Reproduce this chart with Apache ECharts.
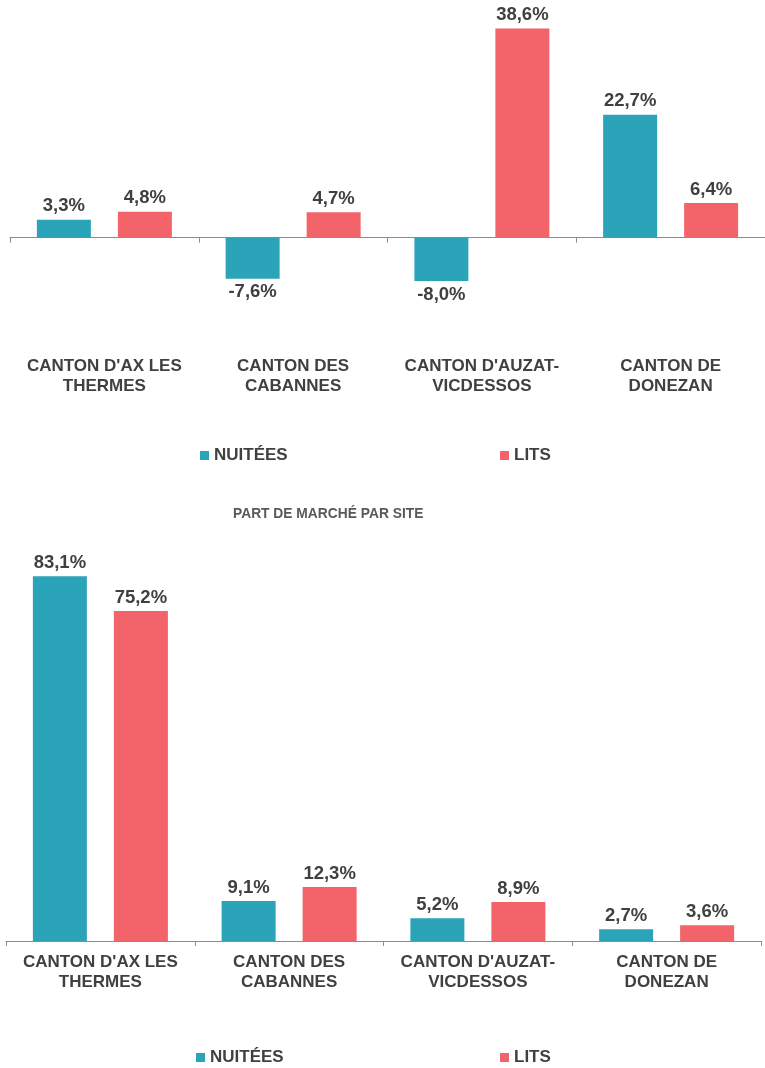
<!DOCTYPE html>
<html>
<head>
<meta charset="utf-8">
<script src="https://cdn.jsdelivr.net/npm/echarts@6/dist/echarts.min.js"></script>
<style>
  html, body { margin: 0; padding: 0; background: #ffffff; }
  #chart { width: 765px; height: 1068px; }
</style>
</head>
<body>
<div id="chart"></div>
<script>
// categories (shared by both charts)
const cantons = ["CANTON D'AX LES\nTHERMES", 'CANTON DES\nCABANNES', "CANTON D'AUZAT-\nVICDESSOS", 'CANTON DE\nDONEZAN'];

// evolution (top chart)
const evolNuitees = [3.3, -7.6, -8.0, 22.7];
const evolLits = [4.8, 4.7, 38.6, 6.4];

// part de marché par site (bottom chart)
const partNuitees = [83.1, 9.1, 5.2, 2.7];
const partLits = [75.2, 12.3, 8.9, 3.6];

const TEAL = '#2ba3b8';
const RED = '#f2636a';
const TXT = '#404040';
const FONT = '"Liberation Sans", Arial, sans-serif';

var dom = document.getElementById('chart');
var myChart = echarts.init(dom, null, { renderer: 'canvas' });

function fmt(v) {
    return v.toFixed(1).replace('.', ',') + '%';
}

// negative bars get their label underneath
function withLabels(values) {
    return values.map(function (v) {
        return { value: v, label: { position: v < 0 ? 'bottom' : 'top' } };
    });
}

const valueLabel = {
    show: true,
    distance: 4,
    color: TXT,
    fontFamily: FONT,
    fontWeight: 'bold',
    fontSize: 18.5,
    formatter: function (p) { return fmt(p.value); }
};

const catLabel = {
    color: TXT,
    fontFamily: FONT,
    fontWeight: 'bold',
    fontSize: 17,
    lineHeight: 20,
    interval: 0
};

const axisLineStyle = { color: '#8c8c8c', width: 1 };

function barSeries(name, color, xi, yi, values) {
    return {
        name: name,
        type: 'bar',
        xAxisIndex: xi,
        yAxisIndex: yi,
        barWidth: 54,
        barGap: '50%',
        itemStyle: { color: color },
        label: valueLabel,
        data: withLabels(values)
    };
}

function legendItem(name, left, top) {
    return {
        data: [name],
        left: left,
        top: top,
        icon: 'rect',
        itemWidth: 9,
        itemHeight: 9,
        selectedMode: false,
        textStyle: { color: TXT, fontFamily: FONT, fontWeight: 'bold', fontSize: 17 }
    };
}

var option = {
    animation: false,
    backgroundColor: '#ffffff',
    title: {
        text: 'PART DE MARCHÉ PAR SITE',
        left: 228,
        top: 502,
        textStyle: { color: '#595959', fontFamily: FONT, fontWeight: 'bold', fontSize: 13.8 }
    },
    legend: [
        legendItem('NUITÉES', 195, 442),
        legendItem('LITS', 495, 442),
        legendItem('NUITÉES', 191, 1044),
        legendItem('LITS', 495, 1044)
    ],
    grid: [
        { left: 10, right: 0, top: 21, height: 325 },
        { left: 6, right: 4, top: 546, height: 395 }
    ],
    xAxis: [
        {
            type: 'category', gridIndex: 0, data: cantons,
            axisLine: { onZero: true, lineStyle: axisLineStyle },
            axisTick: { show: true, length: 5, lineStyle: axisLineStyle },
            axisLabel: { show: false }
        },
        {
            type: 'category', gridIndex: 0, data: cantons, position: 'bottom',
            axisLine: { show: false, onZero: false },
            axisTick: { show: false },
            axisLabel: Object.assign({ margin: 10 }, catLabel)
        },
        {
            type: 'category', gridIndex: 1, data: cantons,
            axisLine: { onZero: true, lineStyle: axisLineStyle },
            axisTick: { show: true, length: 5, lineStyle: axisLineStyle },
            axisLabel: Object.assign({ margin: 11 }, catLabel)
        }
    ],
    yAxis: [
        { type: 'value', gridIndex: 0, min: -20, max: 40, show: false },
        { type: 'value', gridIndex: 1, min: 0, max: 90, show: false }
    ],
    series: [
        barSeries('NUITÉES', TEAL, 0, 0, evolNuitees),
        barSeries('LITS', RED, 0, 0, evolLits),
        barSeries('NUITÉES', TEAL, 2, 1, partNuitees),
        barSeries('LITS', RED, 2, 1, partLits)
    ]
};

if (option && typeof option === 'object') {
    myChart.setOption(option);
}
</script>
</body>
</html>
